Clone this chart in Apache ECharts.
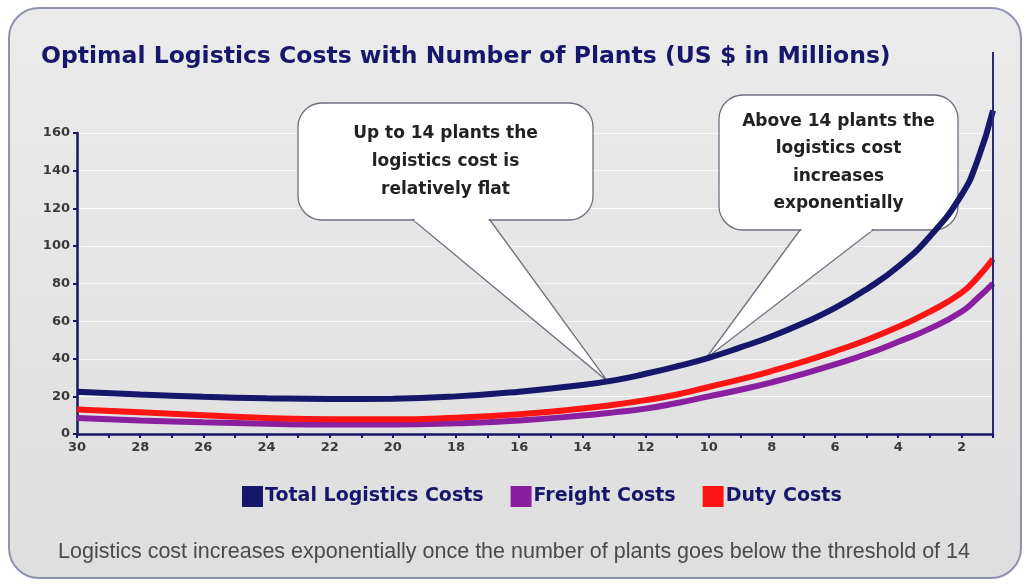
<!DOCTYPE html>
<html>
<head>
<meta charset="utf-8">
<script src="https://cdn.jsdelivr.net/npm/echarts@6/dist/echarts.min.js"></script>
<style>
  html, body { margin: 0; padding: 0; background: #ffffff; }
  #main { width: 1028px; height: 586px; }
</style>
</head>
<body>
<div id="main"></div>
<script>
// number of plants (x) and costs in US $ millions
const plants   = [30, 28, 26, 24, 22, 20, 18, 16, 14, 13, 12, 11, 10, 9, 8, 7, 6, 5, 4, 3, 2, 1.5, 1];
const totalCost   = [22.5, 21, 19.8, 19, 18.6, 18.8, 20, 22.5, 26, 28.5, 32, 36, 40.5, 46, 52, 59, 67, 77, 89, 105, 127, 145, 172];
const freightCost = [8.5, 7.2, 6.2, 5.5, 5, 5, 5.7, 7.2, 9.8, 11.5, 13.5, 16.5, 20, 23.5, 27.5, 32, 37, 42.5, 49, 56, 65, 72, 80];
const dutyCost    = [13, 11.5, 10, 8.5, 7.8, 7.8, 8.7, 10.5, 13.5, 15.5, 18, 21, 25, 29, 33.5, 38.5, 44, 50, 57, 65, 75, 83, 93];
const yTicks = [0, 20, 40, 60, 80, 100, 120, 140, 160];
const frameTop = 203; // right border of the plot reaches up to here (value units)

const seriesNames = ["Total Logistics Costs", "Freight Costs", "Duty Costs"];
const calloutText = [
    "Up to 14 plants the\nlogistics cost is\nrelatively flat",
    "Above 14 plants the\nlogistics cost\nincreases\nexponentially"
];
const calloutAnchor = [[13.2, 28], [10.1, 40]]; // where the pointer touches the total curve

const NAVY = "#16166a";
const toPairs = (vals) => plants.map((p, i) => [p, vals[i]]);

const chart = echarts.init(document.getElementById("main"));

let option = {
    backgroundColor: "#ffffff",
    animation: false,
    title: [
        {
            text: "Optimal Logistics Costs with Number of Plants (US $ in Millions)",
            left: 36,
            top: 40,
            textStyle: {
                fontFamily: "DejaVu Sans",
                fontSize: 23.5,
                fontWeight: "bold",
                color: NAVY
            }
        },
        {
            text: "Logistics cost increases exponentially once the number of plants goes below the threshold of 14",
            left: "center",
            top: 536,
            textStyle: {
                fontFamily: "Liberation Sans",
                fontSize: 21.5,
                fontWeight: "normal",
                color: "#4a4a4a"
            }
        }
    ],
    legend: {
        top: 481,
        left: 237,
        icon: "rect",
        itemWidth: 21,
        itemHeight: 21,
        itemGap: 27,
        data: seriesNames,
        textStyle: {
            fontFamily: "DejaVu Sans",
            fontSize: 19,
            fontWeight: "bold",
            color: NAVY,
            padding: [0, 0, 0, -3]
        }
    },
    grid: {
        left: 77,
        right: 35,
        top: 133,
        bottom: 152
    },
    xAxis: {
        type: "value",
        inverse: true,
        min: 1,
        max: 30,
        interval: 1,
        axisLine: { lineStyle: { color: NAVY, width: 2.5 } },
        axisTick: { length: 4, lineStyle: { color: NAVY, width: 2 } },
        splitLine: { show: false },
        axisLabel: {
            margin: 7,
            fontFamily: "DejaVu Sans",
            fontSize: 13,
            fontWeight: "bold",
            color: "#3a3a3a",
            formatter: (v) => (v % 2 === 0 ? String(v) : "")
        }
    },
    yAxis: {
        type: "value",
        min: yTicks[0],
        max: yTicks[yTicks.length - 1],
        interval: yTicks[1] - yTicks[0],
        axisLine: { show: true, lineStyle: { color: NAVY, width: 2.5 } },
        axisTick: { show: true, length: 4, lineStyle: { color: NAVY, width: 2 } },
        splitLine: { lineStyle: { color: "rgba(255,255,255,0.75)", width: 1 } },
        axisLabel: {
            margin: 7,
            fontFamily: "DejaVu Sans",
            fontSize: 13,
            fontWeight: "bold",
            color: "#3a3a3a"
        }
    },
    series: [
        {
            name: seriesNames[0],
            type: "line",
            smooth: true,
            symbol: "none",
            clip: false,
            z: 4,
            data: toPairs(totalCost),
            lineStyle: { color: NAVY, width: 6 },
            itemStyle: { color: NAVY }
        },
        {
            name: seriesNames[1],
            type: "line",
            smooth: true,
            symbol: "none",
            z: 2,
            data: toPairs(freightCost),
            lineStyle: { color: "#8a1fa0", width: 6 },
            itemStyle: { color: "#8a1fa0" }
        },
        {
            name: seriesNames[2],
            type: "line",
            smooth: true,
            symbol: "none",
            z: 3,
            data: toPairs(dutyCost),
            lineStyle: { color: "#ff1414", width: 6 },
            itemStyle: { color: "#ff1414" }
        }
    ]
};
chart.setOption(option);

// panel + callout bubbles (pointer tips taken from data coordinates)
const bubbleBox = [
    { x: 298, y: 103, w: 295, h: 117, base: [413, 490], lineH: 28 },
    { x: 719, y: 95, w: 239, h: 135, base: [800, 873], lineH: 27.5 }
];

const makeCallout = (i) => {
    const b = bubbleBox[i];
    const tip = chart.convertToPixel({ gridIndex: 0 }, calloutAnchor[i]);
    const bottom = b.y + b.h;
    return {
        type: "group",
        z: 100,
        children: [
            {
                type: "rect",
                z2: 1,
                shape: { x: b.x, y: b.y, width: b.w, height: b.h, r: 24 },
                style: { fill: "#ffffff", stroke: "#6f7080", lineWidth: 1.3 }
            },
            {
                type: "polygon",
                z2: 2,
                shape: { points: [[b.base[0], bottom], [b.base[1], bottom], tip] },
                style: { fill: "#ffffff", stroke: "#6f7080", lineWidth: 1.3 }
            },
            {
                type: "line",
                z2: 3,
                shape: { x1: b.base[0] + 1.5, y1: bottom, x2: b.base[1] - 1.5, y2: bottom },
                style: { stroke: "#ffffff", lineWidth: 3 }
            },
            {
                type: "text",
                z2: 4,
                x: b.x + b.w / 2,
                y: b.y + b.h / 2,
                style: {
                    text: calloutText[i],
                    fontFamily: "DejaVu Sans",
                    fontSize: 17,
                    fontWeight: "bold",
                    lineHeight: b.lineH,
                    fill: "#222222",
                    align: "center",
                    verticalAlign: "middle"
                }
            }
        ]
    };
};

const frameBottom = chart.convertToPixel({ gridIndex: 0 }, [1, 0]);
const frameUp = chart.convertToPixel({ gridIndex: 0 }, [1, frameTop]);

chart.setOption({
    graphic: [
        {
            type: "rect",
            z: -10,
            silent: true,
            shape: { x: 9, y: 8, width: 1012, height: 570, r: 30 },
            style: {
                fill: new echarts.graphic.LinearGradient(0, 0, 0, 1, [
                    { offset: 0, color: "#ebebeb" },
                    { offset: 1, color: "#dedede" }
                ]),
                stroke: "#8e92b2",
                lineWidth: 2
            }
        },
        {
            type: "line",
            z: 5,
            silent: true,
            shape: { x1: frameBottom[0], y1: frameBottom[1], x2: frameUp[0], y2: frameUp[1] },
            style: { stroke: "#2a2a7a", lineWidth: 2 }
        },
        makeCallout(0),
        makeCallout(1)
    ]
});
</script>
</body>
</html>
